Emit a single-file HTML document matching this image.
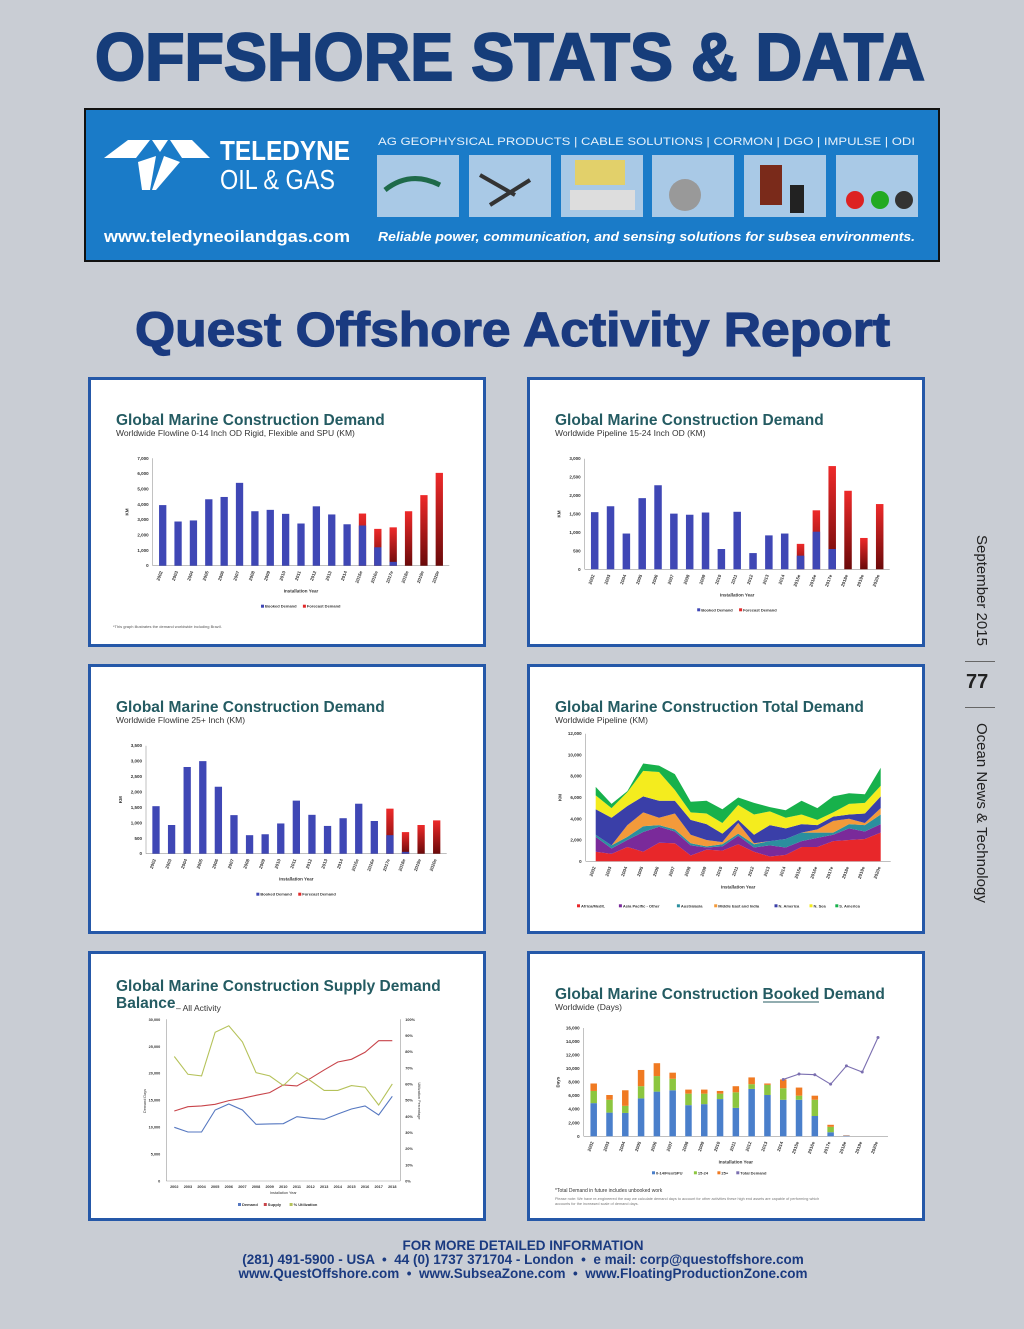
<!DOCTYPE html>
<html><head><meta charset="utf-8">
<style>
html,body{margin:0;padding:0;}
body{width:1024px;height:1329px;background:#c9cdd4;position:relative;overflow:hidden;font-family:"Liberation Sans",sans-serif;}
.abs{position:absolute;}
.panel{position:absolute;width:398px;height:270px;background:#fff;box-shadow:inset 0 0 0 3px #2558a8;}
.panel svg{position:absolute;left:0;top:0;}
.side{position:absolute;writing-mode:vertical-rl;color:#222;font-size:15px;}
.foot{position:absolute;left:0;width:1046px;text-align:center;color:#1a3a80;font-weight:bold;font-size:13.5px;}
</style></head>
<body>
<svg class="abs" style="left:0;top:0" width="1024" height="370">
  <text x="95" y="80" font-family="Liberation Sans" font-weight="bold" font-size="67" fill="#163d7a" stroke="#163d7a" stroke-width="2" textLength="830" lengthAdjust="spacingAndGlyphs">OFFSHORE STATS &amp; DATA</text>
  <g>
    <rect x="85" y="109" width="854" height="152" fill="#1a7bc8" stroke="#111" stroke-width="2"/>
    <g>
      <polygon points="104,158 128,140 150,140 136,158" fill="#fff"/>
      <polygon points="170,140 192,140 210,158 182,158" fill="#fff"/>
      <polygon points="152,140 168,140 160,152" fill="#fff"/>
      <polygon points="138,162 156,156 150,190 142,190" fill="#fff"/>
      <polygon points="164,156 180,162 156,190 152,190" fill="#fff"/>
    </g>
    <text x="220" y="160" font-family="Liberation Sans" font-weight="bold" font-size="28" fill="#fff" textLength="130" lengthAdjust="spacingAndGlyphs">TELEDYNE</text>
    <text x="220" y="189" font-family="Liberation Sans" font-size="28" fill="#fff" textLength="115" lengthAdjust="spacingAndGlyphs">OIL &amp; GAS</text>
    <text x="104" y="242" font-family="Liberation Sans" font-weight="bold" font-size="17" fill="#fff" textLength="246" lengthAdjust="spacingAndGlyphs">www.teledyneoilandgas.com</text>
    <text x="378" y="145" font-family="Liberation Sans" font-size="11" fill="#e6f0fa" textLength="537" lengthAdjust="spacingAndGlyphs">AG GEOPHYSICAL PRODUCTS    |    CABLE SOLUTIONS    |    CORMON    |    DGO    |    IMPULSE    |    ODI</text>
    <g>
      <rect x="377" y="155" width="82" height="62" fill="#a9c9e6"/><rect x="469" y="155" width="82" height="62" fill="#a9c9e6"/>
      <rect x="561" y="155" width="82" height="62" fill="#a9c9e6"/><rect x="652" y="155" width="82" height="62" fill="#a9c9e6"/>
      <rect x="744" y="155" width="82" height="62" fill="#a9c9e6"/><rect x="836" y="155" width="82" height="62" fill="#a9c9e6"/>
      <path d="M385 190 q25 -20 55 -5" stroke="#1e6a4a" stroke-width="5" fill="none"/>
      <path d="M480 175 l35 20 M490 205 l40 -25" stroke="#333" stroke-width="4"/>
      <rect x="575" y="160" width="50" height="25" fill="#e2d06a"/><rect x="570" y="190" width="65" height="20" fill="#ddd"/>
      <circle cx="685" cy="195" r="16" fill="#999"/>
      <rect x="760" y="165" width="22" height="40" fill="#7a2a1a"/><rect x="790" y="185" width="14" height="28" fill="#222"/>
      <circle cx="855" cy="200" r="9" fill="#d22"/><circle cx="880" cy="200" r="9" fill="#2a2"/><circle cx="904" cy="200" r="9" fill="#333"/>
    </g>
    <text x="378" y="241" font-family="Liberation Sans" font-style="italic" font-weight="bold" font-size="13" fill="#fff" textLength="537" lengthAdjust="spacingAndGlyphs">Reliable power, communication, and sensing solutions for subsea environments.</text>
  </g>
  <text x="135" y="346" font-family="Liberation Sans" font-weight="bold" font-size="48" fill="#1a3a80" stroke="#1a3a80" stroke-width="1.2" textLength="755" lengthAdjust="spacingAndGlyphs">Quest Offshore Activity Report</text>
</svg>

<div class="panel" style="left:88px;top:377px"><svg id="c1" width="398" height="270"></svg></div>
<div class="panel" style="left:527px;top:377px"><svg id="c2" width="398" height="270"></svg></div>
<div class="panel" style="left:88px;top:664px"><svg id="c3" width="398" height="270"></svg></div>
<div class="panel" style="left:527px;top:664px"><svg id="c4" width="398" height="270"></svg></div>
<div class="panel" style="left:88px;top:951px"><svg id="c5" width="398" height="270"></svg></div>
<div class="panel" style="left:527px;top:951px"><svg id="c6" width="398" height="270"></svg></div>

<div class="side" style="left:973px;top:535px">September 2015</div>
<div class="abs" style="left:965px;top:661px;width:30px;height:1px;background:#666"></div>
<div class="abs" style="left:966px;top:671px;font-size:20px;font-weight:bold;color:#222">77</div>
<div class="abs" style="left:965px;top:707px;width:30px;height:1px;background:#666"></div>
<div class="side" style="left:973px;top:723px">Ocean News &amp; Technology</div>

<div class="foot" style="top:1238px">FOR MORE DETAILED INFORMATION</div>
<div class="foot" style="top:1252px">(281) 491-5900 - USA &nbsp;•&nbsp; 44 (0) 1737 371704 - London &nbsp;•&nbsp; e mail: corp@questoffshore.com</div>
<div class="foot" style="top:1266px">www.QuestOffshore.com &nbsp;•&nbsp; www.SubseaZone.com &nbsp;•&nbsp; www.FloatingProductionZone.com</div>

<script>
const NS = "http://www.w3.org/2000/svg";
const catsE = ["2002","2003","2004","2005","2006","2007","2008","2009","2010","2011","2012","2013","2014","2015e","2016e","2017e","2018e","2019e","2020e"];
// Chart 1
const c1Booked = [3950,2880,2950,4330,4480,5400,3550,3640,3380,2750,3870,3340,2700,2620,1200,250,0,0,0];
const c1Total = [3950,2880,2950,4330,4480,5400,3550,3640,3380,2750,3870,3340,2700,3400,2400,2500,3550,4600,6050];
const c1Ticks = [0,1000,2000,3000,4000,5000,6000,7000];
// Chart 2
const c2Booked = [1550,1710,970,1930,2280,1510,1480,1540,550,1560,440,920,970,370,1020,550,0,0,0];
const c2Total = [1550,1710,970,1930,2280,1510,1480,1540,550,1560,440,920,970,690,1600,2800,2130,850,1770];
const c2Ticks = [0,500,1000,1500,2000,2500,3000];
// Chart 3
const c3Booked = [1540,930,2810,3000,2170,1250,600,630,980,1720,1260,900,1150,1620,1060,600,60,0,0];
const c3Total = [1540,930,2810,3000,2170,1250,600,630,980,1720,1260,900,1150,1620,1060,1460,700,930,1080];
const c3Ticks = [0,500,1000,1500,2000,2500,3000,3500];
// Chart 4 (stacked area)
const c4Africa = [900,700,1350,900,1750,1700,550,1100,1000,1600,900,450,600,1350,1350,1900,2000,2100,2700];
const c4AsiaPac = [1400,500,650,1850,1500,1100,950,200,400,800,400,1050,700,550,850,600,1100,700,800];
const c4Australasia = [200,300,300,550,150,200,200,100,200,200,300,400,800,800,500,200,400,600,900];
const c4MidEast = [0,0,1100,1300,700,1500,800,600,200,1000,100,0,0,0,300,1100,500,200,600];
const c4NAmerica = [2400,2600,1800,1500,1600,1200,1400,1500,800,300,800,1500,1000,800,400,400,400,900,1100];
const c4NSea = [1300,900,1300,2400,2700,1000,700,1000,1000,1400,1900,1300,1000,900,500,400,1000,1000,1000];
const c4SAmerica = [800,400,100,700,600,1500,1000,1200,1300,700,1100,400,700,1300,1100,1500,1000,800,1700];
const c4Ticks = [0,2000,4000,6000,8000,10000,12000];
const c4Legend = ["Africa/Medit.","Asia Pacific - Other","Australasia","Middle East and India","N. America","N. Sea","S. America"];
// Chart 5 (lines)
const c5Cats = ["2002","2003","2004","2005","2006","2007","2008","2009","2010","2011","2012","2013","2014","2015","2016","2017","2018"];
const c5Demand = [9960,9090,9090,13170,14290,13170,10510,10580,10640,11940,11630,11440,12430,13360,13920,12250,15710];
const c5Supply = [12990,13790,13920,14230,14910,15340,15900,16390,17820,17630,19050,20600,22080,22580,23880,26040,26040];
const c5Util = [77,66,65,92,96,86,67,65,59,67,62,56,56,59,58,47,60];
const c5LeftTicks = [0,5000,10000,15000,20000,25000,30000];
const c5RightTicks = [0,10,20,30,40,50,60,70,80,90,100];
// Chart 6 (stacked bars + line)
const c6Small = [4900,3500,3450,5600,6600,6800,4600,4750,5500,4200,7000,6100,5400,5400,3000,600,100,0,0];
const c6Mid = [1800,1900,1050,1800,2300,1700,1700,1550,800,2300,700,1500,1700,600,2400,800,0,0,0];
const c6Large = [1100,700,2300,2400,1900,900,600,600,400,900,1000,200,1300,1200,600,300,50,0,0];
const c6Total = [null,null,null,null,null,null,null,null,null,null,null,null,8400,9200,9100,7700,10400,9500,14600];
const c6Ticks = [0,2000,4000,6000,8000,10000,12000,14000,16000];

function mk(tag, attrs, parent){const e=document.createElementNS(NS,tag);for(const k in attrs)e.setAttribute(k,attrs[k]);parent.appendChild(e);return e;}
function fmt(v){return v.toLocaleString("en-US");}
function titles(svg,t,s){
  const a=mk("text",{x:28,y:48,"font-size":"15.5","font-weight":"bold",fill:"#245b62","font-family":"Liberation Sans"},svg);a.textContent=t;
  
  
  const b=mk("text",{x:28,y:59,"font-size":"8.5",fill:"#333","font-family":"Liberation Sans"},svg);b.textContent=s;
  
  
}
function axes(svg,g,cats,ticks,ymax,ylab){
  const n=cats.length;const xs=i=>g.x0+i*(g.x1-g.x0)/(n-1);const ys=v=>g.y0-v/ymax*(g.y0-g.y1);
  const ax=mk("line",{x1:g.x0-10,x2:g.x1+10,y1:g.y0,y2:g.y0,stroke:"#999","stroke-width":0.6},svg);
  
  
  const ay=mk("line",{x1:g.x0-10,x2:g.x0-10,y1:g.y1,y2:g.y0,stroke:"#999","stroke-width":0.6},svg);
  
  
  ticks.forEach(t=>{const e=mk("text",{x:g.x0-14,y:ys(t)+1.5,"font-size":"4.5","font-weight":"bold","text-anchor":"end",fill:"#333"},svg);e.textContent=fmt(t);
    
    });
  cats.forEach((c,i)=>{const x=xs(i),y=g.y0+6;const e=mk("text",{x:x,y:y,"font-size":"4.5","font-weight":"bold","text-anchor":"end",fill:"#333",transform:`rotate(-70 ${x} ${y})`},svg);e.textContent=c;
    
    });
  const xt=mk("text",{x:(g.x0+g.x1)/2,y:g.y0+27,"font-size":"4.5","font-weight":"bold","text-anchor":"middle",fill:"#333"},svg);xt.textContent="Installation Year";
  
  
  const yt=mk("text",{x:g.x0-34,y:(g.y0+g.y1)/2,"font-size":"4.5","font-weight":"bold","text-anchor":"middle",fill:"#333",transform:`rotate(-90 ${g.x0-34} ${(g.y0+g.y1)/2})`},svg);yt.textContent=ylab;
  
  
  return {xs,ys};
}
function legend(svg,x,y,items){
  let cx=x;items.forEach(([lab,col])=>{const r=mk("rect",{x:cx,y:y-3,width:3,height:3,fill:col},svg);
    
    
    const t=mk("text",{x:cx+4,y:y,"font-size":"4","font-weight":"bold",fill:"#333"},svg);t.textContent=lab;
    
    
    cx+=lab.length*2.3+12;});
}
function gradDef(svg,id){const d=mk("defs",{},svg);const lg=mk("linearGradient",{id:id,x1:0,y1:0,x2:0,y2:1},d);mk("stop",{offset:"0","stop-color":"#ee2a2a"},lg);mk("stop",{offset:"1","stop-color":"#6a0a0a"},lg);}
function barChart(id,title,sub,booked,total,ticks,ymax,g,bw,note){
  const svg=document.getElementById(id);titles(svg,title,sub);gradDef(svg,id+"g");
  const {xs,ys}=axes(svg,g,catsE,ticks,ymax,"KM");
  total.forEach((v,i)=>{if(v>booked[i]){const r=mk("rect",{x:xs(i)-bw/2,y:ys(v),width:bw,height:ys(0)-ys(v),fill:`url(#${id}g)`},svg);
    
    }});
  booked.forEach((v,i)=>{if(v>0){const r=mk("rect",{x:xs(i)-bw/2,y:ys(v),width:bw,height:ys(0)-ys(v),fill:"#3f47b5"},svg);
    
    }});
  legend(svg,(g.x0+g.x1)/2-40,g.y0+42,[["Booked Demand","#3f47b5"],["Forecast Demand","#e02a2a"]]);
  if(note){const t=mk("text",{x:25,y:251,"font-size":"4",fill:"#555"},svg);t.textContent=note;
    
    }
}
barChart("c1","Global Marine Construction Demand","Worldwide Flowline 0-14 Inch OD Rigid, Flexible and SPU (KM)",c1Booked,c1Total,c1Ticks,7000,{x0:74.7,x1:351.3,y0:188.7,y1:81.3},7.3,"*This graph illustrates the demand worldwide including Brazil.");
barChart("c2","Global Marine Construction Demand","Worldwide Pipeline 15-24 Inch OD (KM)",c2Booked,c2Total,c2Ticks,3000,{x0:67.7,x1:352.7,y0:192.3,y1:81.7},7.5,null);
barChart("c3","Global Marine Construction Demand","Worldwide Flowline 25+ Inch (KM)",c3Booked,c3Total,c3Ticks,3500,{x0:68,x1:348.7,y0:189.7,y1:81.7},7.3,null);

// Chart 4
(function(){
  const svg=document.getElementById("c4");titles(svg,"Global Marine Construction Total Demand","Worldwide Pipeline (KM)");
  const g={x0:68.7,x1:353.7,y0:197.3,y1:69.7};
  const {xs,ys}=axes(svg,g,catsE,c4Ticks,12000,"KM");
  const layers=[c4Africa,c4AsiaPac,c4Australasia,c4MidEast,c4NAmerica,c4NSea,c4SAmerica];
  const cols=["#e8272a","#7a2a9a","#2b8f9e","#f39a3a","#3a3fa8","#f4ec1e","#17b14b"];
  const base=catsE.map(()=>0);
  layers.forEach((L,k)=>{
    const top=base.map((b,i)=>b+L[i]);
    let d="M"+top.map((v,i)=>xs(i)+","+ys(v)).join(" L");
    for(let i=base.length-1;i>=0;i--)d+=" L"+xs(i)+","+ys(base[i]);
    const p=mk("path",{d:d+"Z",fill:cols[k]},svg);
    
    
    top.forEach((v,i)=>base[i]=v);
  });
  legend(svg,50,g.y0+46,c4Legend.map((l,i)=>[l,cols[i]]));
})();

// Chart 5
(function(){
  const svg=document.getElementById("c5");
  const t=mk("text",{x:28,y:40,"font-size":"15.5","font-weight":"bold",fill:"#245b62"},svg);t.textContent="Global Marine Construction Supply Demand";
  
  
  const t2=mk("text",{x:28,y:57,"font-size":"15.5","font-weight":"bold",fill:"#245b62"},svg);t2.textContent="Balance";
  
  
  const s=mk("text",{x:88,y:60,"font-size":"8.5",fill:"#333"},svg);s.textContent="– All Activity";
  
  
  const g={x0:86.3,x1:304.3,y0:230,y1:68.3};
  const n=c5Cats.length;const xs=i=>g.x0+i*(g.x1-g.x0)/(n-1);
  const ys=v=>g.y0-v/30000*(g.y0-g.y1);const yr=v=>g.y0-v/100*(g.y0-g.y1);
  mk("line",{x1:g.x0-8,x2:g.x1+8,y1:g.y0,y2:g.y0,stroke:"#999","stroke-width":0.6},svg);
  mk("line",{x1:g.x0-8,x2:g.x0-8,y1:g.y1,y2:g.y0,stroke:"#999","stroke-width":0.6},svg);
  mk("line",{x1:g.x1+8,x2:g.x1+8,y1:g.y1,y2:g.y0,stroke:"#999","stroke-width":0.6},svg);
  c5LeftTicks.forEach(v=>{const e=mk("text",{x:g.x0-14,y:ys(v)+1.5,"font-size":"3.8","font-weight":"bold","text-anchor":"end",fill:"#333"},svg);e.textContent=fmt(v);
    
    });
  c5RightTicks.forEach(v=>{const e=mk("text",{x:g.x1+13,y:yr(v)+1.5,"font-size":"3.8","font-weight":"bold",fill:"#333"},svg);e.textContent=v+"%";
    
    });
  c5Cats.forEach((c,i)=>{const e=mk("text",{x:xs(i),y:g.y0+7,"font-size":"3.8","font-weight":"bold","text-anchor":"middle",fill:"#333"},svg);e.textContent=c;
    
    });
  const xt=mk("text",{x:(g.x0+g.x1)/2,y:g.y0+13,"font-size":"3.8","text-anchor":"middle",fill:"#333"},svg);xt.textContent="Installation Year";
  
  
  const yl=mk("text",{x:58,y:150,"font-size":"3.8","text-anchor":"middle",fill:"#333",transform:"rotate(-90 58 150)"},svg);yl.textContent="Demand Days";
  
  
  const yr2=mk("text",{x:330,y:150,"font-size":"3.8","text-anchor":"middle",fill:"#333",transform:"rotate(90 330 150)"},svg);yr2.textContent="Utilization Percentage";
  
  
  const ld=mk("polyline",{points:c5Demand.map((v,i)=>xs(i)+","+ys(v)).join(" "),fill:"none",stroke:"#5577c0","stroke-width":1.1},svg);
  
  
  const ls=mk("polyline",{points:c5Supply.map((v,i)=>xs(i)+","+ys(v)).join(" "),fill:"none",stroke:"#c8444a","stroke-width":1.1},svg);
  
  
  const lu=mk("polyline",{points:c5Util.map((v,i)=>xs(i)+","+yr(v)).join(" "),fill:"none",stroke:"#b5c25a","stroke-width":1.1},svg);
  
  
  legend(svg,150,g.y0+25,[["Demand","#5577c0"],["Supply","#c8444a"],["% Utilization","#b5c25a"]]);
})();

// Chart 6
(function(){
  const svg=document.getElementById("c6");
  titles(svg,"Global Marine Construction Booked Demand","Worldwide (Days)");
  const ul=mk("line",{x1:236,x2:292,y1:51,y2:51,stroke:"#245b62","stroke-width":1},svg);
  
  
  const g={x0:66.7,x1:351,y0:185.3,y1:77};
  const {xs,ys}=axes(svg,g,catsE,c6Ticks,16000,"Days");
  const bw=6.5;const base=catsE.map(()=>0);
  [[c6Small,"#4a7fcb","bar-0-14"],[c6Mid,"#8cc63f","bar-15-24"],[c6Large,"#f07a22","bar-25-plus"]].forEach(([arr,col,nm])=>{
    arr.forEach((v,i)=>{if(v>0){const r=mk("rect",{x:xs(i)-bw/2,y:ys(base[i]+v),width:bw,height:ys(base[i])-ys(base[i]+v),fill:col},svg);
      
      }base[i]+=v;});
  });
  const pts=c6Total.map((v,i)=>v===null?null:xs(i)+","+ys(v)).filter(p=>p);
  const pl=mk("polyline",{points:pts.join(" "),fill:"none",stroke:"#7b6fb0","stroke-width":1.1},svg);
  
  
  c6Total.forEach((v,i)=>{if(v!==null){const c=mk("circle",{cx:xs(i),cy:ys(v),r:1.5,fill:"#7b6fb0"},svg);
    
    }});
  legend(svg,125,g.y0+38,[["0-14/Flex/SPU","#4a7fcb"],["15-24","#8cc63f"],["25+","#f07a22"],["Total Demand","#7b6fb0"]]);
  const n1=mk("text",{x:28,y:241,"font-size":"5",fill:"#333"},svg);n1.textContent="*Total Demand in future includes unbooked work";
  
  
  const n2=mk("text",{x:28,y:249,"font-size":"3.8",fill:"#777"},svg);n2.textContent="Please note: We have re-engineered the way we calculate demand days to account for other activities these high end assets are capable of performing which";
  
  
  const n3=mk("text",{x:28,y:254,"font-size":"3.8",fill:"#777"},svg);n3.textContent="accounts for the increased scale of demand days.";
  
  
})();
</script>
</body></html>
